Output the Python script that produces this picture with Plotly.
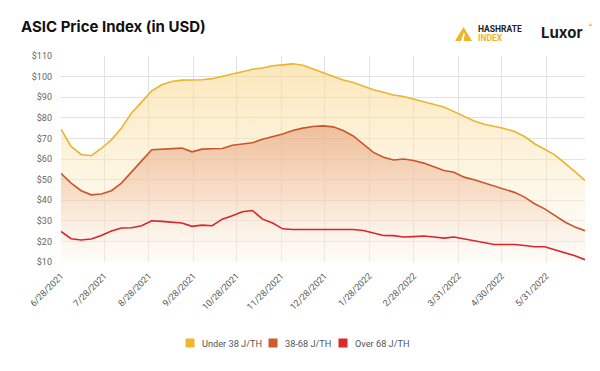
import datetime as dt
import plotly.graph_objects as go

start = dt.date(2021, 6, 28)
dates = [start + dt.timedelta(days=7 * i) for i in range(53)]

under38 = [74.5, 66.1, 62.2, 61.6, 65.1, 69.3, 75.0, 82.3, 87.6, 93.1,
           96.0, 97.6, 98.3, 98.3, 98.5, 99.0, 100.3, 101.3, 102.4, 103.6,
           104.2, 105.3, 105.7, 106.2, 105.5, 103.7, 102.1, 100.3, 98.4, 97.1,
           95.2, 93.6, 92.4, 91.1, 90.3, 89.0, 87.9, 86.6, 85.2, 83.0,
           80.6, 78.5, 76.9, 76.0, 74.8, 73.3, 70.9, 67.4, 64.9, 62.0,
           58.0, 53.6, 49.6]
mid38_68 = [53.0, 48.3, 44.6, 42.6, 43.0, 44.6, 48.3, 53.5, 59.1, 64.5,
            64.8, 65.1, 65.3, 63.5, 64.8, 65.0, 65.1, 66.7, 67.2, 67.9,
            69.6, 70.8, 72.1, 73.8, 75.0, 75.8, 76.1, 75.6, 73.8, 71.2,
            67.4, 63.2, 60.9, 59.5, 60.0, 59.3, 58.0, 56.1, 54.4, 53.6,
            51.2, 49.9, 48.3, 46.7, 45.4, 43.8, 41.5, 38.3, 35.8, 32.6,
            29.4, 27.0, 25.2]
over68 = [24.8, 21.3, 20.7, 21.2, 22.9, 25.0, 26.5, 26.6, 27.6, 30.0,
          29.7, 29.4, 28.9, 27.3, 27.9, 27.6, 30.8, 32.4, 34.4, 35.0,
          30.8, 28.9, 26.1, 25.8, 25.8, 25.8, 25.8, 25.8, 25.8, 25.8,
          25.3, 24.1, 22.9, 22.8, 22.1, 22.3, 22.6, 22.1, 21.6, 22.1,
          21.2, 20.2, 19.4, 18.5, 18.5, 18.5, 18.0, 17.4, 17.4, 16.0,
          14.7, 13.0, 11.1]

series_names = ["Under 38 J/TH", "38-68 J/TH", "Over 68 J/TH"]
tick_dates = ["2021-06-28", "2021-07-28", "2021-08-28", "2021-09-28", "2021-10-28",
              "2021-11-28", "2021-12-28", "2022-01-28", "2022-02-28", "2022-03-31",
              "2022-04-30", "2022-05-31"]
tick_labels = ["6/28/2021", "7/28/2021", "8/28/2021", "9/28/2021", "10/28/2021",
               "11/28/2021", "12/28/2021", "1/28/2022", "2/28/2022", "3/31/2022",
               "4/30/2022", "5/31/2022"]
y_ticks = [10, 20, 30, 40, 50, 60, 70, 80, 90, 100, 110]
y_labels = ["$%d" % v for v in y_ticks]

c_yellow = "#E9B52E"
c_orange = "#C9562A"
c_red = "#D8262B"
legend_colors = ["#EEB72E", "#D35A2A", "#E0262B"]

fig = go.Figure()
fig.add_trace(go.Scatter(
    x=dates, y=under38, mode="lines", line=dict(color=c_yellow, width=1.6),
    fill="tozeroy", name=series_names[0],
    fillgradient=dict(type="vertical", start=10, stop=106,
                      colorscale=[[0, "rgba(255,250,240,0.3)"], [0.5, "rgba(252,232,190,0.5)"],
                                  [1, "rgba(249,215,140,0.6)"]]),
    showlegend=False, hoverinfo="skip"))
fig.add_trace(go.Scatter(
    x=dates, y=mid38_68, mode="lines", line=dict(color=c_orange, width=1.6),
    fill="tozeroy", name=series_names[1],
    fillgradient=dict(type="vertical", start=10, stop=76,
                      colorscale=[[0, "rgba(250,235,228,0.1)"], [0.5, "rgba(238,185,150,0.4)"],
                                  [1, "rgba(226,150,110,0.55)"]]),
    showlegend=False, hoverinfo="skip"))
fig.add_trace(go.Scatter(
    x=dates, y=over68, mode="lines", line=dict(color=c_red, width=1.6),
    name=series_names[2], showlegend=False, hoverinfo="skip"))

# plot-area pixel geometry helpers for logo / legend placement
L, R, T, B = 61, 15, 56, 109
W, H = 600, 371
pw, ph = W - L - R, H - T - B
def px(x): return (x - L) / pw
def py(y): return (H - B - y) / ph

shapes = [
    dict(type="path", xref="paper", yref="paper",
         path="M %f %f L %f %f L %f %f Z" % (px(455), py(41), px(463.5), py(27), px(472), py(41)),
         fillcolor="#F0B429", line=dict(width=0)),
    dict(type="path", xref="paper", yref="paper",
         path="M %f %f L %f %f L %f %f L %f %f Z" % (px(461), py(41), px(463.5), py(33),
                                                   px(465), py(33), px(463.5), py(41)),
         fillcolor="#FFFFFF", line=dict(width=0)),
]

annotations = [
    dict(text="<b>ASIC Price Index (in USD)</b>", xref="paper", yref="paper",
         x=px(19), y=py(26), xanchor="left", yanchor="middle", showarrow=False,
         font=dict(family="Inter, Roboto, sans-serif", size=15, color="#111111")),
    dict(text="<b>HASHRATE</b>", xref="paper", yref="paper",
         x=px(476), y=py(29), xanchor="left", yanchor="middle", showarrow=False,
         font=dict(family="Roboto, sans-serif", size=8.5, color="#222222")),
    dict(text="<b>INDEX</b>", xref="paper", yref="paper",
         x=px(476), y=py(38.5), xanchor="left", yanchor="middle", showarrow=False,
         font=dict(family="Roboto, sans-serif", size=8.5, color="#F0B429")),
    dict(text="<b>Luxor</b>", xref="paper", yref="paper",
         x=px(539), y=py(32), xanchor="left", yanchor="middle", showarrow=False,
         font=dict(family="Inter, Roboto, sans-serif", size=15, color="#1a1a1a")),
    dict(text="▲", xref="paper", yref="paper",
         x=px(590), y=py(24), xanchor="center", yanchor="middle", showarrow=False,
         font=dict(size=5, color="#F0B429")),
]

# manual legend (square swatch + label)
leg_sq_x = [190, 273, 343]
leg_y = 343
for name, col, sx in zip(series_names, legend_colors, leg_sq_x):
    shapes.append(dict(type="rect", xref="paper", yref="paper",
                       x0=px(sx - 4.5), x1=px(sx + 4.5), y0=py(leg_y + 4.5), y1=py(leg_y - 4.5),
                       fillcolor=col, line=dict(width=0)))
    annotations.append(dict(text=name, xref="paper", yref="paper",
                            x=px(sx + 10), y=py(leg_y), xanchor="left", yanchor="middle",
                            showarrow=False,
                            font=dict(family="Roboto, sans-serif", size=9.2, color="#555555")))

fig.update_layout(
    width=W, height=H,
    margin=dict(l=L, r=R, t=T, b=B),
    paper_bgcolor="white", plot_bgcolor="white",
    font=dict(family="Roboto, sans-serif", size=9, color="#666666"),
    shapes=shapes, annotations=annotations, showlegend=False,
    xaxis=dict(type="date", range=[dates[0], dates[-1]],
               tickvals=tick_dates, ticktext=tick_labels, tickangle=-45,
               showgrid=True, gridcolor="#E2E2E2", gridwidth=1,
               zeroline=False, showline=False, ticks="", ticklen=0,
               ticklabelstandoff=6, automargin=False,
               tickfont=dict(size=9, color="#555555")),
    yaxis=dict(range=[10, 110], tickvals=y_ticks, ticktext=y_labels,
               showgrid=True, gridcolor="#E2E2E2", gridwidth=1,
               zeroline=False, showline=False, ticks="", automargin=False,
               ticklabelstandoff=8,
               tickfont=dict(size=9, color="#666666")),
)

fig.write_html("out.html", config={"displayModeBar": False},
               post_script="document.body.style.margin='0px';")
